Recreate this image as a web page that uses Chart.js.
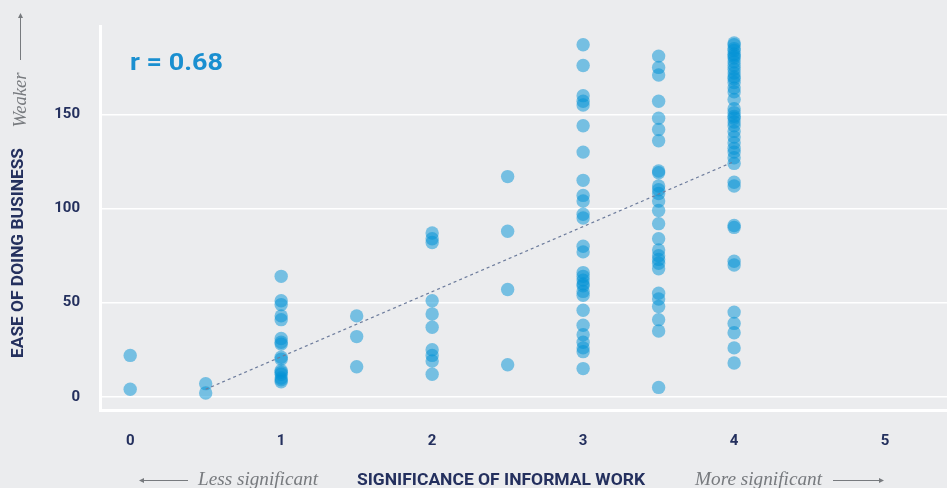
<!DOCTYPE html>
<html>
<head>
<meta charset="utf-8">
<title>Informal work vs ease of doing business</title>
<script src="https://cdn.jsdelivr.net/npm/chart.js@4.4.1/dist/chart.umd.min.js"></script>
<style>
  html, body { margin: 0; padding: 0; background: #ebecee; }
  #wrap { width: 947px; height: 488px; position: relative; }
</style>
</head>
<body>
<div id="wrap"><canvas id="scatter"></canvas></div>
<script>
// ease of doing business rank, grouped by significance-of-informal-work score
const informalLevels = [0, 0.5, 1, 1.5, 2, 2.5, 3, 3.5, 4];
const easeAt0 = [22, 4];
const easeAt05 = [7, 2];
const easeAt1 = [64, 51, 49, 43, 41, 31, 29, 28, 21, 20, 14, 13, 12, 10, 9, 8];
const easeAt15 = [43, 32, 16];
const easeAt2 = [87, 84, 82, 51, 44, 37, 25, 22, 19, 12];
const easeAt25 = [117, 88, 57, 17];
const easeAt3 = [187, 176, 160, 157, 155, 144, 130, 115, 107, 104, 97, 95, 80, 77,
                 66, 64, 62, 60, 59, 56, 54, 46, 38, 33, 29, 26, 24, 15];
const easeAt35 = [181, 175, 171, 157, 148, 142, 136, 120, 119, 112, 110, 108, 104, 99,
                  92, 84, 78, 75, 73, 71, 68, 55, 52, 48, 41, 35, 5];
const easeAt4 = [188, 187, 185, 184, 182, 181, 180, 178, 176, 174, 172, 170, 169, 167,
                 164, 162, 158, 153, 151, 149, 148, 146, 144, 141, 138, 135, 132, 130,
                 127, 124, 114, 112, 91, 90, 72, 70, 45, 39, 34, 26, 18];
const easeByLevel = [easeAt0, easeAt05, easeAt1, easeAt15, easeAt2, easeAt25, easeAt3, easeAt35, easeAt4];

// fitted trend line end points
const trendX = [0.5, 4];
const trendY = [4, 125];

const xTicks = [0, 1, 2, 3, 4, 5];
const yTicks = [0, 50, 100, 150];
const correlationLabel = "r = 0.68";

const BG = "#ebecee";
const NAVY = "#24305e";
const GREY = "#777a7e";

const points = [];
informalLevels.forEach((lvl, i) => {
  easeByLevel[i].forEach(v => points.push({ x: lvl, y: v }));
});
const trend = trendX.map((x, i) => ({ x: x, y: trendY[i] }));

function fitText(ctx, text, cx, cy, width, font, color, angle) {
  ctx.save();
  ctx.font = font;
  ctx.fillStyle = color;
  ctx.textAlign = "center";
  ctx.textBaseline = "middle";
  ctx.translate(cx, cy);
  if (angle) ctx.rotate(angle);
  const w = ctx.measureText(text).width;
  ctx.scale(width / w, 1);
  ctx.fillText(text, 0, 0);
  ctx.restore();
}

function arrow(ctx, x1, y1, x2, y2) {
  const a = Math.atan2(y2 - y1, x2 - x1);
  ctx.save();
  ctx.strokeStyle = GREY;
  ctx.fillStyle = GREY;
  ctx.lineWidth = 1;
  ctx.beginPath();
  ctx.moveTo(x1, y1);
  ctx.lineTo(x2, y2);
  ctx.stroke();
  ctx.translate(x2, y2);
  ctx.rotate(a);
  ctx.beginPath();
  ctx.moveTo(1, 0);
  ctx.lineTo(-4, -2.5);
  ctx.lineTo(-4, 2.5);
  ctx.closePath();
  ctx.fill();
  ctx.restore();
}

const decor = {
  id: "decor",
  beforeDraw(chart) {
    const c = chart.ctx;
    c.save();
    c.fillStyle = BG;
    c.fillRect(0, 0, chart.width, chart.height);
    c.restore();
  },
  afterDraw(chart) {
    const c = chart.ctx;
    fitText(c, correlationLabel, 176.5, 64, 93, "bold 24px Roboto", "#1a8fd0");
    fitText(c, "EASE OF DOING BUSINESS", 19, 253, 210, "bold 16px Roboto", NAVY, -Math.PI / 2);
    fitText(c, "Weaker", 21, 100, 55, 'italic 18px "Liberation Serif"', GREY, -Math.PI / 2);
    arrow(c, 20.5, 60, 20.5, 14);
    fitText(c, "SIGNIFICANCE OF INFORMAL WORK", 501, 481, 288, "bold 16px Roboto", NAVY);
    fitText(c, "Less significant", 258, 480, 120, 'italic 18px "Liberation Serif"', GREY);
    arrow(c, 188, 480.5, 140, 480.5);
    fitText(c, "More significant", 758.5, 480, 127, 'italic 18px "Liberation Serif"', GREY);
    arrow(c, 833, 480.5, 883, 480.5);
  }
};

const tickFont = { family: "Roboto", weight: "bold", size: 15 };

new Chart(document.getElementById("scatter"), {
  type: "scatter",
  data: {
    datasets: [
      {
        type: "line",
        data: trend,
        borderColor: "#6d7c9c",
        borderWidth: 1.2,
        borderDash: [3, 3],
        pointRadius: 0,
        fill: false
      },
      {
        data: points,
        backgroundColor: "rgba(0, 146, 214, 0.5)",
        borderWidth: 0,
        pointRadius: 6.7,
        pointHoverRadius: 6.7
      }
    ]
  },
  options: {
    responsive: true,
    maintainAspectRatio: false,
    animation: false,
    events: [],
    layout: { autoPadding: false, padding: { top: 26, left: 0, right: 0, bottom: 0 } },
    plugins: { legend: { display: false }, tooltip: { enabled: false } },
    scales: {
      x: {
        type: "linear",
        min: -0.2,
        max: 5.41,
        afterBuildTicks: s => { s.ticks = xTicks.map(v => ({ value: v })); },
        afterFit: s => { s.height = 78; s.paddingLeft = 0; s.paddingRight = 0; },
        ticks: { font: tickFont, color: NAVY, padding: 22, maxRotation: 0 },
        grid: { display: false, drawTicks: false },
        border: { display: true, color: "#ffffff", width: 3 }
      },
      y: {
        min: -7,
        max: 197,
        afterBuildTicks: s => { s.ticks = yTicks.map(v => ({ value: v })); },
        afterFit: s => { s.width = 100; s.paddingTop = 0; s.paddingBottom = 0; },
        ticks: { font: tickFont, color: NAVY, padding: 20 },
        grid: { color: "#ffffff", lineWidth: 1.5, drawTicks: false },
        border: { display: true, color: "#ffffff", width: 3 }
      }
    }
  },
  plugins: [decor]
});
</script>
</body>
</html>
